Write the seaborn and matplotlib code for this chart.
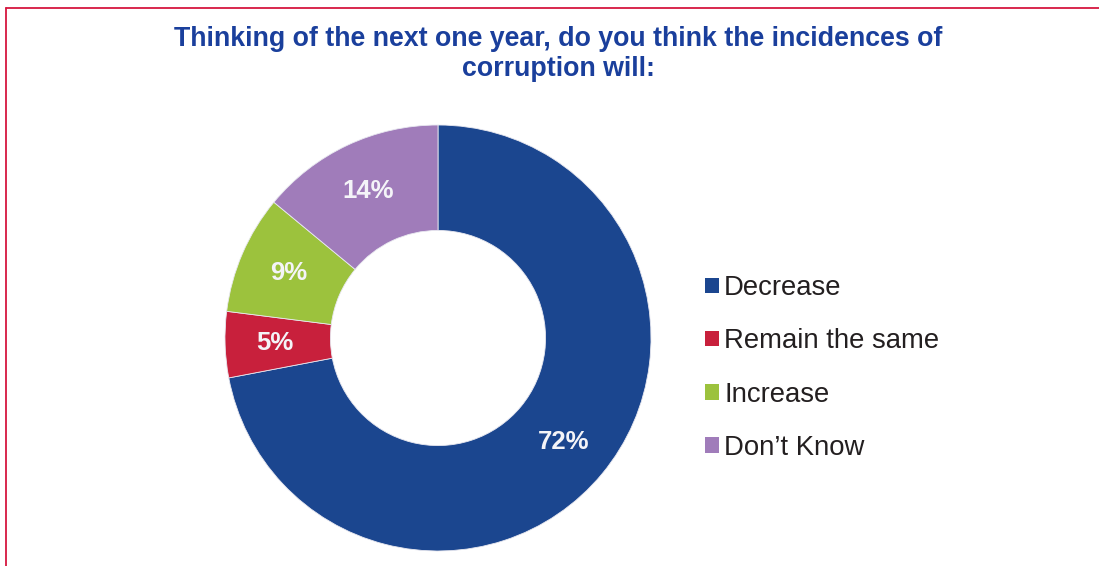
import matplotlib
matplotlib.use("Agg")
import matplotlib.pyplot as plt
from matplotlib.patches import Patch
from matplotlib.lines import Line2D
import seaborn as sns

# Survey responses (share of respondents, %)
categories = ["Decrease", "Remain the same", "Increase", "Don\u2019t Know"]
shares = [72, 5, 9, 14]
slice_labels = ["72%", "5%", "9%", "14%"]
title_text = "Thinking of the next one year, do you think the incidences of\ncorruption will:"

sns.set_theme(style="white")
plt.rcParams["font.family"] = ["Liberation Sans", "DejaVu Sans"]

colors = sns.color_palette(["#1b468f", "#c8203c", "#9cc23d", "#a07cba"])

W, H = 1099, 566
fig = plt.figure(figsize=(W / 100, H / 100), dpi=100)
fig.patch.set_facecolor("white")
ax = fig.add_axes([0, 0, 1, 1])

cx, cy, R = 438, H - 338, 213
wedges, texts, autotexts = ax.pie(
    shares,
    colors=colors,
    startangle=90,
    counterclock=False,
    center=(cx, cy),
    radius=R,
    labels=None,
    autopct=lambda p: "",
    pctdistance=0.765,
    wedgeprops=dict(width=R * 0.495, edgecolor="#e8e8f0", linewidth=0.6),
)
for t, lab in zip(autotexts, slice_labels):
    t.set_text(lab)
    t.set_color("#f4f4f8")
    t.set_fontsize(18.5)
    t.set_fontweight("bold")

ax.set_xlim(0, W)
ax.set_ylim(0, H)
ax.set_aspect("equal")
ax.axis("off")

# Page frame lines (top and left)
border = "#d5173f"
ax.add_line(Line2D([6, W], [H - 8, H - 8], color=border, lw=1.3))
ax.add_line(Line2D([6, 6], [H - 8, 0], color=border, lw=1.3))

ax.text(558, H - 54, title_text, ha="center", va="center", fontsize=19.3,
        fontweight="bold", color="#1a3f9c", linespacing=1.2)

handles = [Patch(facecolor=c, edgecolor="none") for c in colors]
leg = ax.legend(handles, categories, loc="center left",
                bbox_to_anchor=(705 / W, 1 - 368 / H),
                frameon=False, fontsize=19.8, handlelength=0.5,
                handleheight=0.5, handletextpad=0.2, labelspacing=0.99,
                borderpad=0, borderaxespad=0)
for t in leg.get_texts():
    t.set_color("#231f20")

fig.savefig("out.png", dpi=100, facecolor="white")
